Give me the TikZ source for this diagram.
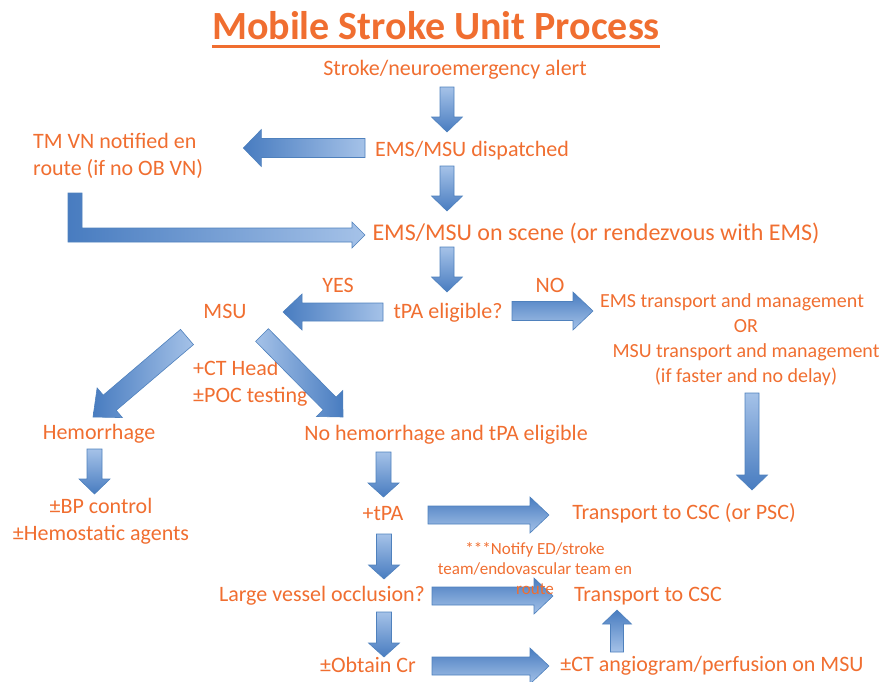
\documentclass[tikz,border=0pt]{standalone}
\usepackage{fontspec}
\setmainfont{Carlito}
\usetikzlibrary{calc}

\definecolor{msuorange}{RGB}{240,110,48}
\definecolor{arrowlight}{RGB}{165,194,232}
\definecolor{arrowdark}{RGB}{72,124,192}
\definecolor{arrowedge}{RGB}{79,129,189}

% block arrow: #2 tail, #3 tip, #4 half shaft, #5 half head, #6 head length
\newcommand{\fatarrow}[6][]{%
  \coordinate (fa-t) at #2;
  \coordinate (fa-h) at #3;
  \coordinate (fa-n) at ($(fa-h)!#6!(fa-t)$);
  \path[blockarrow,#1]
    ($(fa-t)!#4!90:(fa-h)$) -- ($(fa-n)!#4!90:(fa-h)$) -- ($(fa-n)!#5!90:(fa-h)$)
    -- (fa-h) -- ($(fa-n)!#5!-90:(fa-h)$) -- ($(fa-n)!#4!-90:(fa-h)$)
    -- ($(fa-t)!#4!-90:(fa-h)$) -- cycle;
}

\tikzset{
  txt/.style={text=msuorange, inner sep=0pt, anchor=base, font=\fontsize{22}{27}\selectfont},
  titletxt/.style={txt, font=\fontsize{40}{44}\selectfont\bfseries},
  emstxt/.style={txt, font=\fontsize{20}{25}\selectfont},
  notetxt/.style={txt, font=\fontsize{17}{20}\selectfont},
  blockarrow/.style={draw=arrowedge, line width=0.6pt},
  downshade/.style={top color=arrowlight, bottom color=arrowdark},
  upshade/.style={top color=arrowdark, bottom color=arrowlight},
  rightshade/.style={top color=arrowdark, bottom color=arrowlight},
  leftshade/.style={left color=arrowdark, right color=arrowlight},
}

\begin{document}
\begin{tikzpicture}[x=1pt, y=-1pt]
  \useasboundingbox (0,0) rectangle (880,681);

  % title
  \node[titletxt] (title) at (436,39) {Mobile Stroke Unit Process};
  \draw[msuorange, line width=3pt] ($(title.base west)+(0,7)$) -- ($(title.base east)+(0,7)$);

  % steps
  \node[txt] (alert) at (455,75) {Stroke/neuroemergency alert};
  \node[txt] (disp) at (472,156) {EMS/MSU dispatched};
  \node[txt, anchor=west, align=left] (tmvn) at (33,156) {TM VN notified en\\route (if no OB VN)};
  \node[txt, font=\fontsize{24}{27}\selectfont] (scene) at (596,240) {EMS/MSU on scene (or rendezvous with EMS)};
  \node[txt] (tpa) at (448,318) {tPA eligible?};
  \node[txt] (yes) at (338,292) {YES};
  \node[txt] (no) at (550,292) {NO};
  \node[txt] (msu) at (225,318) {MSU};
  \node[emstxt, anchor=center, align=center] (ems) at (746,340)
    {EMS transport and management\hspace*{28pt}\\OR\\MSU transport and management\\(if faster and no delay)};
  \node[txt, anchor=west, align=left] (ct) at (193,383) {+CT Head\\±POC testing};
  \node[txt] (hem) at (99,439) {Hemorrhage};
  \node[txt] (nohem) at (446,440) {No hemorrhage and tPA eligible};
  \node[txt, anchor=center, align=center] (bp) at (101,521) {±BP control\\±Hemostatic agents};
  \node[txt] (plustpa) at (383,520) {+tPA};
  \node[txt] (csc1) at (684,519) {Transport to CSC (or PSC)};
  \node[txt] (lvo) at (322,601) {Large vessel occlusion?};
  \node[txt] (csc2) at (648,601) {Transport to CSC};
  \node[txt] (cr) at (368,672) {±Obtain Cr};
  \node[txt] (cta) at (712,671) {±CT angiogram/perfusion on MSU};

  % main column
  \fatarrow[downshade]{($(alert.base)+(-8,12)$)}{($(disp.base)+(-25,-24)$)}{7pt}{15.5pt}{15pt}
  \fatarrow[downshade]{($(disp.base)+(-25,10)$)}{($(scene.base)+(-149,-29)$)}{7pt}{15.5pt}{15pt}
  \fatarrow[downshade]{($(scene.base)+(-149,7)$)}{($(tpa.base)+(-1,-26)$)}{7pt}{15.5pt}{15pt}
  \fatarrow[leftshade]{($(disp.base)+(-107,-8)$)}{($(tmvn.east)+(40,-8)$)}{9.5pt}{18.5pt}{18pt}

  % TM VN back to scene
  \coordinate (lstart) at ($(tmvn.west)+(42,37)$);
  \coordinate (lend) at ($(scene.base)+(-231,-5)$);
  \path[blockarrow, left color=arrowdark, right color=arrowlight] let \p1=(lstart), \p2=(lend) in
    (\x1-7pt,\y1) -- (\x1-7pt,\y2-7pt) -- (\x2-13pt,\y2-7pt) -- (\x2-13pt,\y2-13pt) -- (\x2,\y2)
    -- (\x2-13pt,\y2+13pt) -- (\x2-13pt,\y2+7pt) -- (\x1+7pt,\y2+7pt) -- (\x1+7pt,\y1) -- cycle;

  % decision
  \fatarrow[leftshade]{($(tpa.base)+(-65,-6)$)}{($(msu.base)+(58,-6)$)}{9pt}{18pt}{19pt}
  \fatarrow[rightshade]{($(tpa.base)+(64,-7)$)}{($(ems.center)+(-153,-29)$)}{9.5pt}{19pt}{20pt}
  \fatarrow[leftshade]{($(msu.base)+(-38,19)$)}{($(hem.base)+(-6,-22)$)}{10pt}{19.5pt}{22pt}
  \fatarrow[left color=arrowlight, right color=arrowdark]{($(msu.base)+(37,17)$)}{($(nohem.base)+(-103,-23)$)}{9pt}{18.5pt}{19pt}
  \fatarrow[downshade]{($(hem.base)+(-4.5,10)$)}{($(bp.center)+(-6.5,-27)$)}{7.5pt}{15.5pt}{15pt}
  \fatarrow[downshade]{($(ems.center)+(6,53)$)}{($(csc1.base)+(68,-29)$)}{7pt}{15.5pt}{15pt}

  % treatment column
  \fatarrow[downshade]{($(nohem.base)+(-62.5,12)$)}{($(plustpa.base)+(0.5,-23)$)}{7.5pt}{15.5pt}{14pt}
  \fatarrow[downshade]{($(plustpa.base)+(1,14)$)}{($(lvo.base)+(62,-22)$)}{7.5pt}{15.5pt}{14pt}
  \fatarrow[downshade]{($(lvo.base)+(62,11)$)}{($(cr.base)+(16,-15)$)}{7.5pt}{15.5pt}{14pt}
  \fatarrow[rightshade]{($(plustpa.base)+(45,-5)$)}{($(csc1.base)+(-135,-4)$)}{9pt}{18pt}{19pt}
  \fatarrow[rightshade]{($(lvo.base)+(110,-5)$)}{($(csc2.base)+(-95,-5)$)}{9pt}{18pt}{19pt}
  \fatarrow[rightshade]{($(cr.base)+(64,-6)$)}{($(cta.base)+(-163,-5)$)}{9pt}{18pt}{19pt}
  \fatarrow[upshade]{($(cta.base)+(-95,-19)$)}{($(csc2.base)+(-31,9)$)}{6.5pt}{14.5pt}{14pt}

  % note drawn over the arrow
  \node[notetxt, anchor=center, align=center] (notify) at (535,569)
    {***Notify ED/stroke\\team/endovascular team en\\route};
\end{tikzpicture}
\end{document}
